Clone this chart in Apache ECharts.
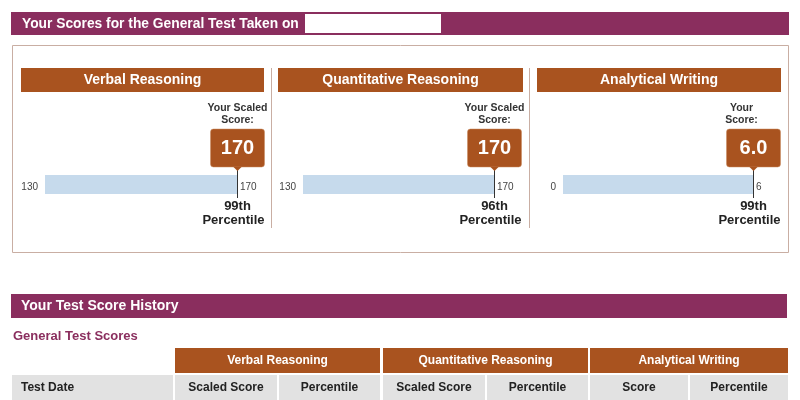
<!DOCTYPE html>
<html>
<head>
<meta charset="utf-8">
<script src="https://cdn.jsdelivr.net/npm/echarts@6/dist/echarts.min.js"></script>
<style>html,body{margin:0;padding:0;background:#fff}#c{width:800px;height:400px}</style>
</head>
<body>
<div id="c"></div>
<script>
// ---- data ----
const sections = ['Verbal Reasoning', 'Quantitative Reasoning', 'Analytical Writing'];
const scoreCaption = [['Your Scaled', 'Score:'], ['Your Scaled', 'Score:'], ['Your', 'Score:']];
const scores = [170, 170, 6.0];
const scoreDigits = [0, 0, 1];
const scaleMin = [130, 130, 0];
const scaleMax = [170, 170, 6];
const percentiles = ['99th', '96th', '99th'];
const mainTitle = 'Your Scores for the General Test Taken on';
const historyTitle = 'Your Test Score History';
const historySub = 'General Test Scores';
const historyFirstCol = 'Test Date';
const historyCols = [['Scaled Score', 'Percentile'], ['Scaled Score', 'Percentile'], ['Score', 'Percentile']];

// ---- style / layout ----
const PURPLE = '#8A2E5E', RUST = '#A9531F', BLUE = '#C6DAEC', GRAY = '#E2E2E2';
const FF = '"Liberation Sans", Arial, sans-serif';
const panelX = [[21, 264], [278, 523], [537, 781]];
const grids = [{left: 45, right: 563}, {left: 303, right: 306}, {left: 563, right: 47}];
const captionShift = [0, 0, -12];

const chart = echarts.init(document.getElementById('c'), null, {renderer: 'canvas'});

const graphic = [];
// top banner
graphic.push({type: 'rect', shape: {x: 11, y: 12, width: 778, height: 23}, style: {fill: PURPLE}});
graphic.push({type: 'text', style: {text: mainTitle, x: 22, y: 24, verticalAlign: 'middle', fill: '#fff', font: 'bold 13.8px ' + FF}});
graphic.push({type: 'rect', shape: {x: 305, y: 14, width: 136, height: 19}, style: {fill: '#fff'}});
// outer box
graphic.push({type: 'rect', shape: {x: 12.5, y: 45.5, width: 776, height: 207}, style: {fill: 'none', stroke: '#C9AEA3', lineWidth: 1}});
// separators
graphic.push({type: 'line', shape: {x1: 271.5, y1: 68, x2: 271.5, y2: 228}, style: {stroke: '#C9AEA3', lineWidth: 1}});
graphic.push({type: 'line', shape: {x1: 529.5, y1: 68, x2: 529.5, y2: 228}, style: {stroke: '#C9AEA3', lineWidth: 1}});
// panel headers
sections.forEach((s, i) => {
  const [a, b] = panelX[i];
  graphic.push({type: 'rect', shape: {x: a, y: 68, width: b - a, height: 24}, style: {fill: RUST}});
  graphic.push({type: 'text', style: {text: s, x: (a + b) / 2, y: 80.5, align: 'center', verticalAlign: 'middle', fill: '#fff', font: 'bold 14px ' + FF}});
});
// history banner
graphic.push({type: 'rect', shape: {x: 11, y: 294, width: 776, height: 24}, style: {fill: PURPLE}});
graphic.push({type: 'text', style: {text: historyTitle, x: 21, y: 306.5, verticalAlign: 'middle', fill: '#fff', font: 'bold 14px ' + FF}});
graphic.push({type: 'text', style: {text: historySub, x: 13, y: 336.5, verticalAlign: 'middle', fill: PURPLE, font: 'bold 13px ' + FF}});
// table
const groupX = [[175, 380], [383, 588], [590, 788]];
sections.forEach((s, i) => {
  const [a, b] = groupX[i];
  graphic.push({type: 'rect', shape: {x: a, y: 348, width: b - a, height: 25}, style: {fill: RUST}});
  graphic.push({type: 'text', style: {text: s, x: (a + b) / 2, y: 361, align: 'center', verticalAlign: 'middle', fill: '#fff', font: 'bold 12px ' + FF}});
  const mid = Math.round((a + b) / 2);
  const cells = [[a, mid - 1], [mid + 1, b]];
  cells.forEach((c, j) => {
    graphic.push({type: 'rect', shape: {x: c[0], y: 375, width: c[1] - c[0], height: 25}, style: {fill: GRAY}});
    graphic.push({type: 'text', style: {text: historyCols[i][j], x: (c[0] + c[1]) / 2, y: 387.5, align: 'center', verticalAlign: 'middle', fill: '#222', font: 'bold 12px ' + FF}});
  });
});
graphic.push({type: 'rect', shape: {x: 12, y: 375, width: 161, height: 25}, style: {fill: GRAY}});
graphic.push({type: 'text', style: {text: historyFirstCol, x: 21, y: 387.5, verticalAlign: 'middle', fill: '#222', font: 'bold 12px ' + FF}});

const gridOpt = [], xAxis = [], yAxis = [], series = [];
sections.forEach((s, i) => {
  gridOpt.push({left: grids[i].left, right: grids[i].right, top: 175, height: 19});
  xAxis.push({type: 'value', gridIndex: i, min: scaleMin[i], max: scaleMax[i], show: false});
  yAxis.push({type: 'category', gridIndex: i, data: [s], show: false});
  series.push({
    type: 'bar', xAxisIndex: i, yAxisIndex: i, data: [scaleMax[i]], barWidth: 19,
    itemStyle: {color: BLUE}, silent: true, animation: false
  });
  series.push({
    type: 'custom', xAxisIndex: i, yAxisIndex: i, animation: false, silent: true,
    data: [[scores[i], 0, scaleMin[i], scaleMax[i]]],
    renderItem: function (params, api) {
      const p = api.coord([api.value(0), 0]);
      const x = Math.round(p[0]) + 0.5, cy = p[1];
      const xMin = api.coord([api.value(2), 0])[0];
      const xMax = api.coord([api.value(3), 0])[0];
      const cx = x + captionShift[i];
      return {type: 'group', children: [
        {type: 'text', style: {text: String(scaleMin[i]), x: xMin - 7, y: cy + 3, align: 'right', verticalAlign: 'middle', fill: '#444', font: '10px ' + FF}},
        {type: 'text', style: {text: String(scaleMax[i]), x: xMax + 3, y: cy + 3, align: 'left', verticalAlign: 'middle', fill: '#444', font: '10px ' + FF}},
        {type: 'line', shape: {x1: x, y1: cy - 18, x2: x, y2: cy + 13.5}, style: {stroke: '#333', lineWidth: 1}},
        {type: 'rect', shape: {x: x - 27, y: cy - 55.5, width: 54, height: 38, r: 3}, style: {fill: RUST, stroke: '#C98A5E', lineWidth: 0.5}},
        {type: 'polygon', shape: {points: [[x - 4, cy - 17.6], [x + 4, cy - 17.6], [x, cy - 13.5]]}, style: {fill: RUST}},
        {type: 'text', style: {text: api.value(0).toFixed(scoreDigits[i]), x: x, y: cy - 36, align: 'center', verticalAlign: 'middle', fill: '#fff', font: 'bold 20px ' + FF}},
        {type: 'text', style: {text: scoreCaption[i][0], x: cx, y: cy - 76, align: 'center', verticalAlign: 'middle', fill: '#333', font: 'bold 10.5px ' + FF}},
        {type: 'text', style: {text: scoreCaption[i][1], x: cx, y: cy - 64.5, align: 'center', verticalAlign: 'middle', fill: '#333', font: 'bold 10.5px ' + FF}},
        {type: 'text', style: {text: percentiles[i], x: x, y: cy + 21.5, align: 'center', verticalAlign: 'middle', fill: '#222', font: 'bold 13px ' + FF}},
        {type: 'text', style: {text: 'Percentile', x: x - 4, y: cy + 35.5, align: 'center', verticalAlign: 'middle', fill: '#222', font: 'bold 13px ' + FF}}
      ]};
    }
  });
});

chart.setOption({
  animation: false,
  grid: gridOpt,
  xAxis: xAxis,
  yAxis: yAxis,
  graphic: graphic,
  series: series
});
</script>
</body>
</html>
